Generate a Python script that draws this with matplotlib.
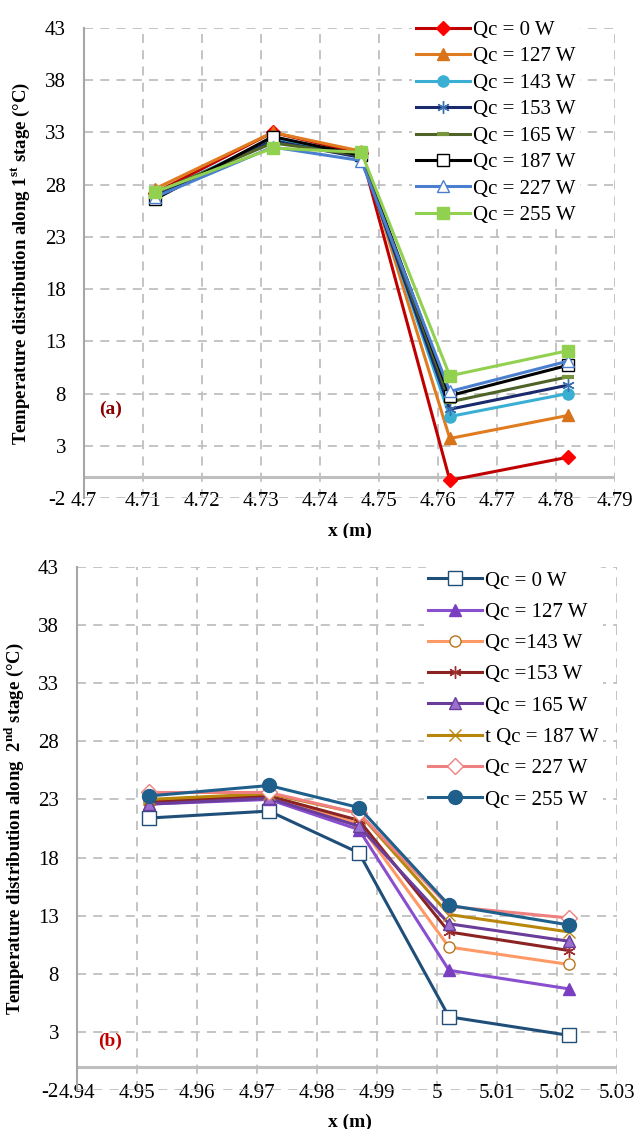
import matplotlib
matplotlib.use("Agg")
import matplotlib.pyplot as plt
from matplotlib.patches import Rectangle
import numpy as np

# ---------------- data ----------------
labels_a = ["Qc = 0 W", "Qc = 127 W", "Qc = 143 W", "Qc = 153 W",
            "Qc = 165 W", "Qc = 187 W", "Qc = 227 W", "Qc = 255 W"]
x_a = [4.712, 4.732, 4.747, 4.762, 4.782]
qc0_a = [27.2, 33.0, 31.0, -0.3, 1.9]
qc127_a = [27.6, 33.0, 31.2, 3.7, 5.9]
qc143_a = [27.0, 32.4, 30.8, 5.8, 8.0]
qc153_a = [27.0, 32.2, 30.6, 6.5, 8.8]
qc165_a = [27.2, 32.0, 30.8, 7.2, 9.6]
qc187_a = [26.6, 32.6, 30.8, 7.8, 10.7]
qc227_a = [26.8, 31.6, 30.3, 8.2, 11.1]
qc255_a = [27.3, 31.5, 31.1, 9.7, 12.1]

labels_b = ["Qc = 0 W", "Qc = 127 W", "Qc =143 W", "Qc =153 W",
            "Qc = 165 W", "t Qc = 187 W", "Qc = 227 W", "Qc = 255 W"]
x_b = [4.952, 4.972, 4.987, 5.002, 5.022]
qc0_b = [21.4, 22.0, 18.4, 4.3, 2.7]
qc127_b = [22.6, 23.0, 20.4, 8.3, 6.7]
qc143_b = [22.8, 23.2, 20.9, 10.3, 8.8]
qc153_b = [22.8, 23.3, 21.2, 11.6, 10.0]
qc165_b = [22.6, 23.1, 20.7, 12.3, 10.8]
qc187_b = [23.0, 23.5, 21.8, 13.1, 11.6]
qc227_b = [23.6, 23.6, 21.8, 13.8, 12.8]
qc255_b = [23.3, 24.2, 22.3, 13.9, 12.2]

yticks = [-2, 3, 8, 13, 18, 23, 28, 33, 38, 43]
xticks_a = [4.70, 4.71, 4.72, 4.73, 4.74, 4.75, 4.76, 4.77, 4.78, 4.79]
xticklabels_a = ["4.7", "4.71", "4.72", "4.73", "4.74", "4.75", "4.76", "4.77", "4.78", "4.79"]
xticks_b = [4.94, 4.95, 4.96, 4.97, 4.98, 4.99, 5.00, 5.01, 5.02, 5.03]
xticklabels_b = ["4.94", "4.95", "4.96", "4.97", "4.98", "4.99", "5", "5.01", "5.02", "5.03"]

series_a = [qc0_a, qc127_a, qc143_a, qc153_a, qc165_a, qc187_a, qc227_a, qc255_a]
series_b = [qc0_b, qc127_b, qc143_b, qc153_b, qc165_b, qc187_b, qc227_b, qc255_b]

# ---------------- styles ----------------
style_a = [
    dict(color="#C00000", marker="D", mfc="#FF0000", mec="#FF0000", ms=7),
    dict(color="#E07B1F", marker="^", mfc="#D9731A", mec="#D9731A", ms=8),
    dict(color="#3AAFD3", marker="o", mfc="#3AAFD3", mec="#3AAFD3", ms=8),
    dict(color="#1A2A6C", marker=(6, 2, 0), mfc="#1A2A6C", mec="#3A6FB0", ms=9),
    dict(color="#4F6228", marker="_", mfc="#77933C", mec="#77933C", ms=9, mew=3),
    dict(color="#000000", marker="s", mfc="white", mec="#000000", ms=9),
    dict(color="#4A7FD0", marker="^", mfc="white", mec="#4A7FD0", ms=8),
    dict(color="#92D050", marker="s", mfc="#92D050", mec="#92D050", ms=9),
]
style_b = [
    dict(color="#1F4E79", marker="s", mfc="white", mec="#1F4E79", ms=10),
    dict(color="#8A4FCF", marker="^", mfc="#7A3FC0", mec="#7A3FC0", ms=8),
    dict(color="#FF9966", marker="o", mfc="white", mec="#B8741A", ms=8),
    dict(color="#8B2323", marker=(6, 2, 0), mfc="#8B2323", mec="#A03030", ms=9),
    dict(color="#6A3D9A", marker="^", mfc="#9A6FCF", mec="#6A3D9A", ms=8),
    dict(color="#B8860B", marker="x", mfc="#B8860B", mec="#B8860B", ms=8),
    dict(color="#F08080", marker="D", mfc="white", mec="#F08080", ms=8),
    dict(color="#1F5F8B", marker="o", mfc="#1F5F8B", mec="#1F5F8B", ms=10),
]

plt.rcParams["font.family"] = ["Liberation Serif", "DejaVu Serif"]
plt.rcParams["mathtext.fontset"] = "custom"
plt.rcParams["mathtext.rm"] = "Liberation Serif"
plt.rcParams["mathtext.bf"] = "Liberation Serif:bold"

W, H = 638, 1129
fig = plt.figure(figsize=(W / 100, H / 100), dpi=100)

def px_axes(l, r, t, b):
    return fig.add_axes([l / W, 1 - b / H, (r - l) / W, (b - t) / H])

ax_a = px_axes(84, 615, 28, 498)
ax_b = px_axes(77, 617, 567, 1090)

grid_c = "#BFBFBF"

def setup(ax, xticks, xlabels, xlim):
    ax.set_xlim(*xlim)
    ax.set_ylim(-2, 43)
    ax.set_yticks(yticks)
    ax.set_yticklabels([str(v) for v in yticks])
    ax.set_xticks(xticks)
    ax.set_xticklabels(xlabels)
    for s in ["top", "right", "bottom"]:
        ax.spines[s].set_visible(False)
    ax.spines["left"].set_color("#A6A6A6")
    ax.spines["left"].set_linewidth(1.5)
    ax.grid(True, color=grid_c, linestyle=(0, (5, 4)), linewidth=1.3)
    ax.set_axisbelow(True)
    ax.tick_params(axis="x", length=0, pad=-4, labelsize=15)
    ax.tick_params(axis="y", length=0, pad=13, labelsize=15)
    ax.axhline(0, color="#BFBFBF", lw=2.2, zorder=1)

setup(ax_a, xticks_a, xticklabels_a, (4.70, 4.79))
setup(ax_b, xticks_b, xticklabels_b, (4.94, 5.03))

for ys, lab, st in zip(series_a, labels_a, style_a):
    ax_a.plot(x_a, ys, label=lab, lw=2.2, zorder=3, **st)
for ys, lab, st in zip(series_b, labels_b, style_b):
    ax_b.plot(x_b, ys, label=lab, lw=2.2, zorder=3, **st)

ax_a.set_ylabel(r"Temperature distribution along 1$^{\mathbf{st}}$ stage (°C)",
                fontsize=13.5, fontweight="bold")
ax_a.yaxis.set_label_coords(-0.098, 0.5)
ax_b.set_ylabel(r"Temperature distribution along  2$^{\mathbf{nd}}$ stage (°C)",
                fontsize=13.5, fontweight="bold")
ax_b.yaxis.set_label_coords(-0.094, 0.5)

leg_a = ax_a.legend(loc="upper left", bbox_to_anchor=((412 - 84) / 531, 1.025),
                    fontsize=15, frameon=True, facecolor="white", edgecolor="none",
                    framealpha=1, handlelength=2.6, handletextpad=0.15,
                    labelspacing=0.33, borderpad=0.2, borderaxespad=0)
leg_b = ax_b.legend(loc="upper left", bbox_to_anchor=((424 - 77) / 540, 1.0),
                    fontsize=15, frameon=True, facecolor="white", edgecolor="none",
                    framealpha=1, handlelength=2.6, handletextpad=0.15,
                    labelspacing=0.56, borderpad=0.2, borderaxespad=0)

ax_a.text(4.7045, 6.5, "(a)", color="#8B0000", fontsize=14, fontweight="bold",
          ha="center", va="center")
ax_b.text(4.9455, 2.2, "(b)", color="#C00000", fontsize=14, fontweight="bold",
          ha="center", va="center")

fig.text(350 / W, 1 - 531 / H, "x (m)", fontsize=14, fontweight="bold",
         ha="center", va="center")
fig.text(350 / W, 1 - 1122 / H, "x (m)", fontsize=14, fontweight="bold",
         ha="center", va="center")
fig.patches.append(Rectangle((0, 1 - 560 / H), 1, 22 / H, transform=fig.transFigure,
                             facecolor="white", edgecolor="none", zorder=10))

fig.savefig("out.png", dpi=100)
